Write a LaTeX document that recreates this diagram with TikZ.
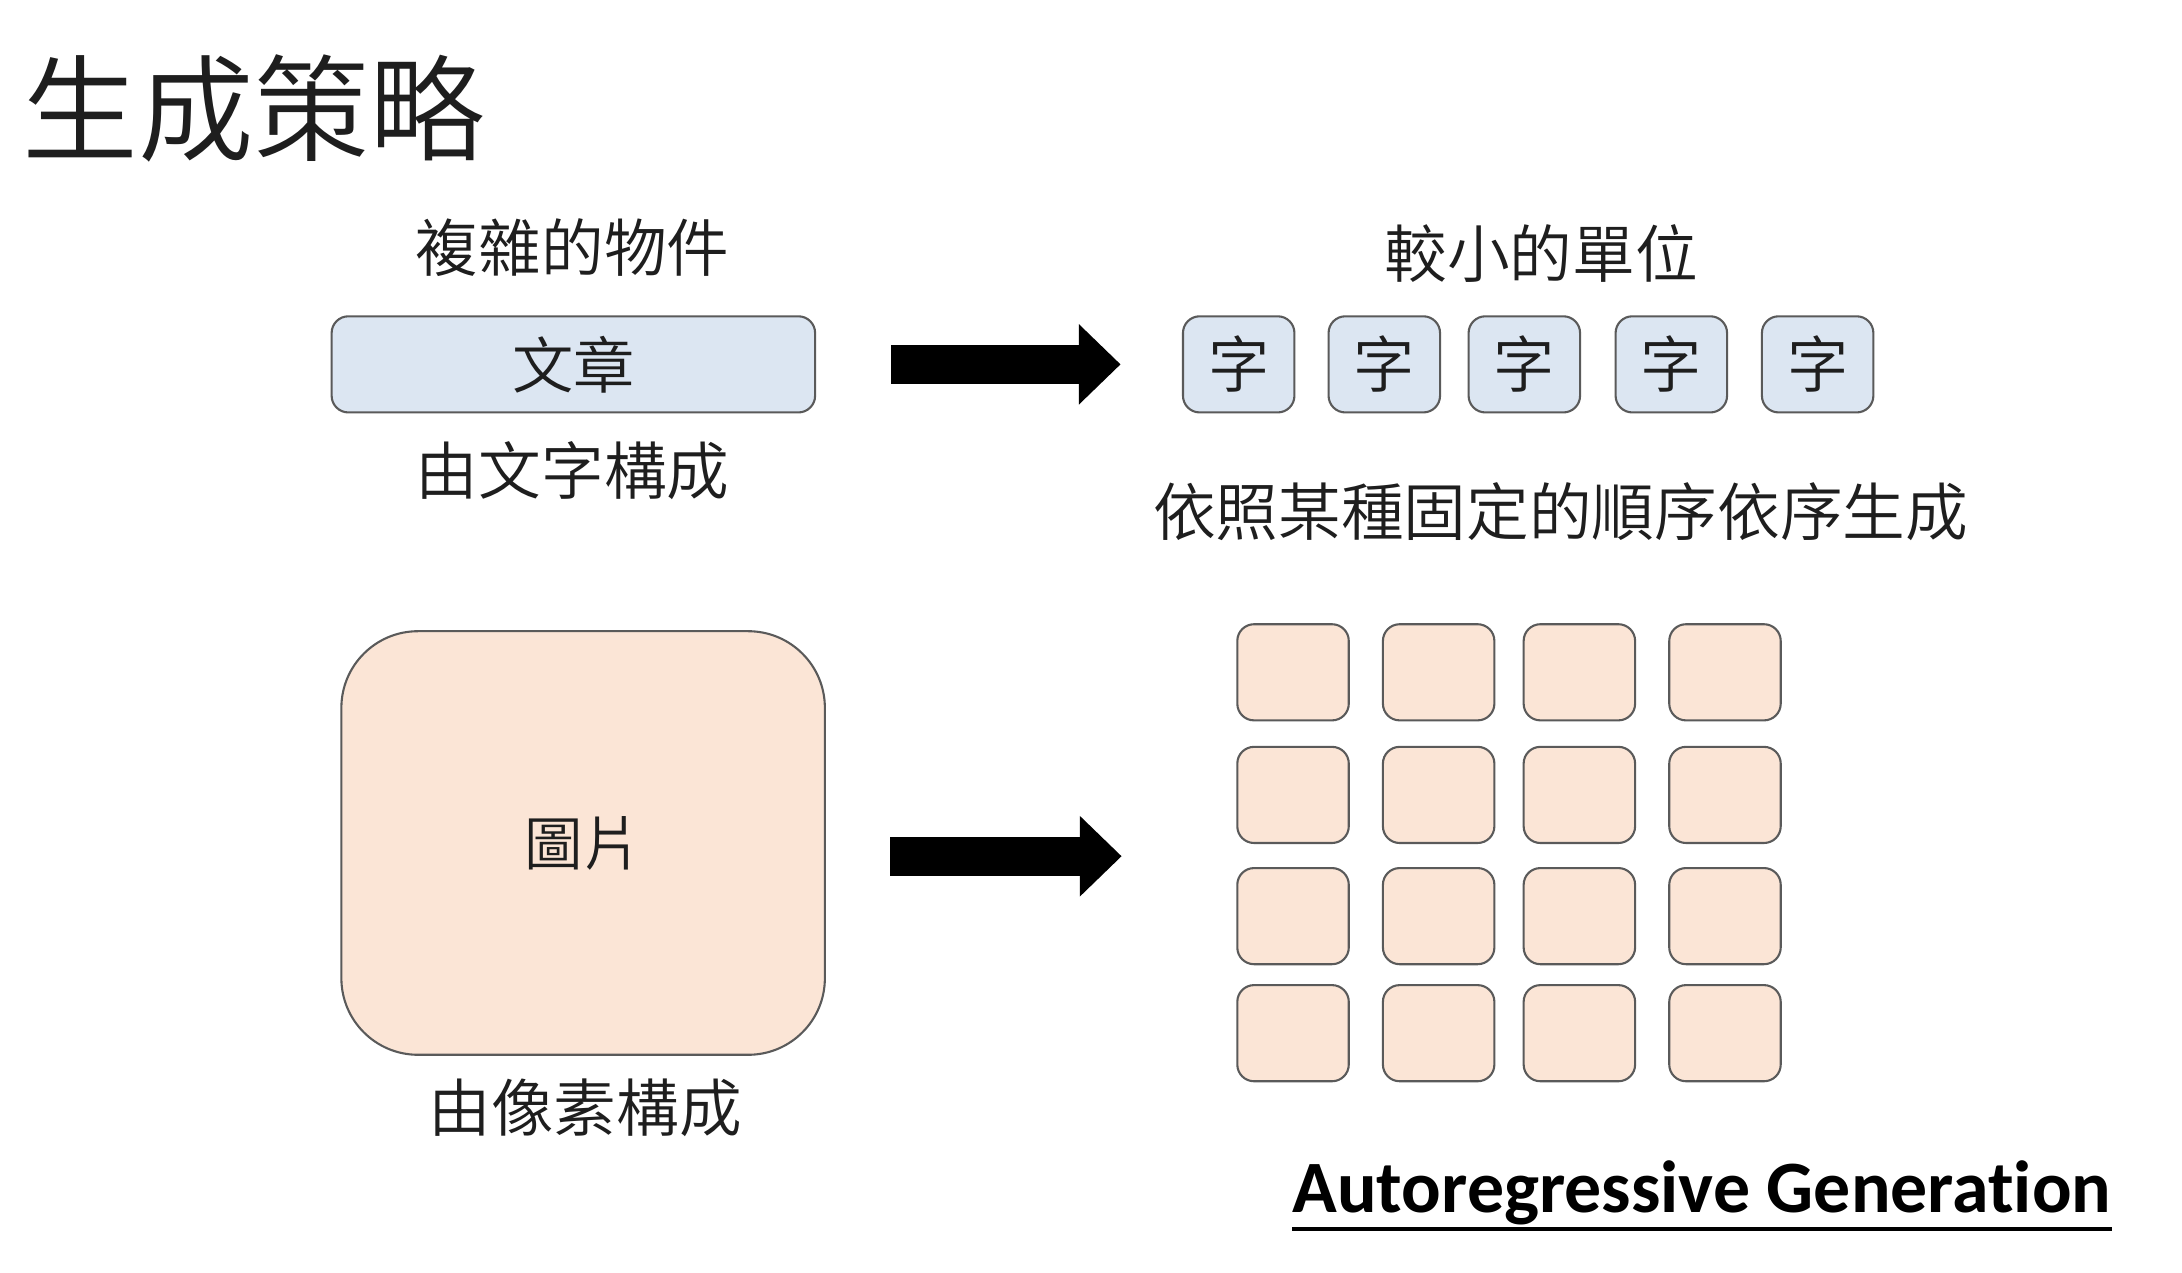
\documentclass[tikz,border=0pt]{standalone}
\usepackage{fontspec}
\newfontfamily\cjk{Noto Sans CJK TC}[UprightFont=* DemiLight]
\newfontfamily\calfont{Carlito}[Ligatures=NoCommon]
\usetikzlibrary{arrows.meta}
\definecolor{boxblue}{HTML}{DCE6F2}
\definecolor{boxorange}{HTML}{FBE5D6}
\definecolor{boxline}{HTML}{5A5A5A}
\definecolor{txt}{HTML}{1E1E1E}
\tikzset{
  label45/.style={font=\cjk\fontsize{45}{54}\selectfont, text=txt, inner sep=0pt},
  bluebox/.style={draw=boxline, line width=1.5pt, fill=boxblue, rounded corners=12pt,
    inner sep=0pt, minimum height=69pt, font=\cjk\fontsize{44}{52}\selectfont, text=txt},
  cell/.style={draw=boxline, line width=1.5pt, fill=boxorange, rounded corners=12pt,
    inner sep=0pt, minimum width=80pt, minimum height=69pt},
  bigarrow/.style={line width=28pt, -{Triangle[length=30pt, width=56pt]}, black},
}
\begin{document}
\begin{tikzpicture}[x=1pt, y=-1pt]
\fill[white] (0,0) rectangle (1566,913);
\useasboundingbox (0,0) rectangle (1566,913);

% title
\node[font=\cjk\fontsize{83}{96}\selectfont, text=txt, inner sep=0pt, anchor=west] (title) at (16,78) {生成策略};

% top row
\node[label45] (complex) at (411,178) {複雜的物件};
\node[bluebox, minimum width=347pt] (article) at (411.5,261.5) {文章};
\node[label45] (madeofchars) at (411,338) {由文字構成};

\node[label45] (smaller) at (1106,182) {較小的單位};
\node[bluebox, minimum width=80pt] (z1) at (889,261.5) {字};
\node[bluebox, minimum width=80pt] (z2) at (993.5,261.5) {字};
\node[bluebox, minimum width=80pt] (z3) at (1094,261.5) {字};
\node[bluebox, minimum width=80pt] (z4) at (1199.5,261.5) {字};
\node[bluebox, minimum width=80pt] (z5) at (1304.5,261.5) {字};
\node[label45] (order) at (1120,367) {依照某種固定的順序依序生成};

\draw[bigarrow, shorten <=54pt, shorten >=44pt] (article.east) -- (z1.west);

% bottom row
\node[draw=boxline, line width=1.5pt, fill=boxorange, rounded corners=55pt,
  inner sep=0pt, minimum width=347pt, minimum height=304pt,
  font=\cjk\fontsize{42}{50}\selectfont, text=txt] (image) at (418.5,605) {圖片};
\node[label45] (madeofpixels) at (420,795) {由像素構成};

\coordinate (b1) at (639,614.5);
\coordinate (b2) at (805,614.5);
\draw[bigarrow] (b1) -- (b2);

\foreach \r/\y in {1/482.5, 2/570.5, 3/657.5, 4/741.5} {
  \foreach \c/\x in {1/928, 2/1032.5, 3/1133.5, 4/1238} {
    \node[cell] (g\r\c) at (\x,\y) {};
  }
}

% caption
\node[font=\calfont\bfseries\fontsize{53}{60}\selectfont, text=black, inner sep=0pt, anchor=base] (ag) at (1221.5,870) {Autoregressive Generation};
\draw[line width=3pt, black] ([yshift=-12pt]ag.base west) -- ([yshift=-12pt]ag.base east);
\end{tikzpicture}
\end{document}
